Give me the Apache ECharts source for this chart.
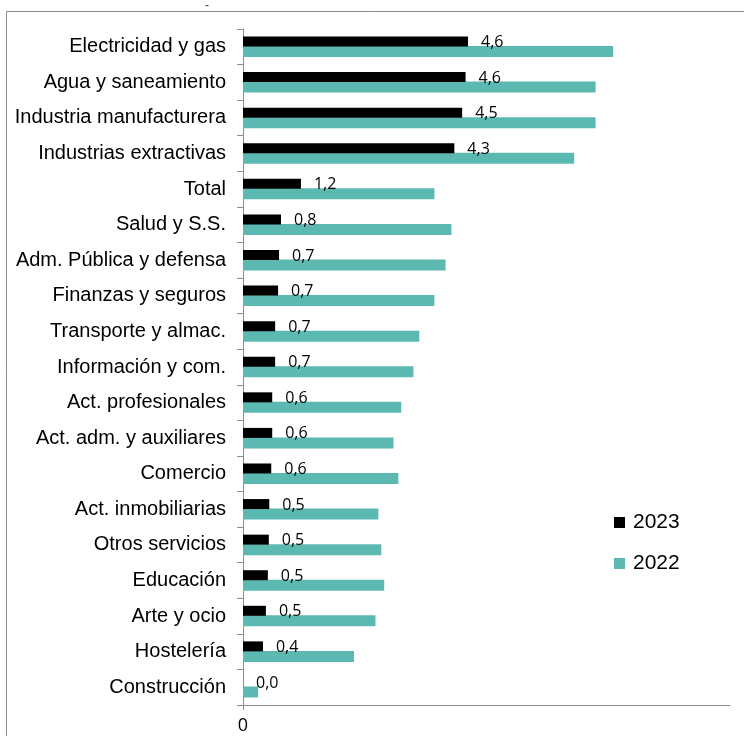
<!DOCTYPE html>
<html>
<head>
<meta charset="utf-8">
<script src="https://cdn.jsdelivr.net/npm/echarts@6/dist/echarts.min.js"></script>
<style>
  html, body { margin: 0; padding: 0; background: #fff; }
  #chart { width: 744px; height: 736px; }
</style>
</head>
<body>
<div id="chart"></div>
<script>
// Sector categories, top to bottom
const categories = [
  'Electricidad y gas', 'Agua y saneamiento', 'Industria manufacturera',
  'Industrias extractivas', 'Total', 'Salud y S.S.', 'Adm. Pública y defensa',
  'Finanzas y seguros', 'Transporte y almac.', 'Información y com.',
  'Act. profesionales', 'Act. adm. y auxiliares', 'Comercio',
  'Act. inmobiliarias', 'Otros servicios', 'Educación', 'Arte y ocio',
  'Hostelería', 'Construcción'
];

// 2023 values (labelled)
const values2023 = [4.62, 4.57, 4.50, 4.34, 1.19, 0.78, 0.74, 0.72, 0.66, 0.66,
                    0.60, 0.60, 0.58, 0.54, 0.53, 0.51, 0.47, 0.41, 0.0];

// 2022 values
const values2022 = [7.60, 7.24, 7.24, 6.80, 3.93, 4.28, 4.16, 3.93, 3.62, 3.50,
                    3.25, 3.09, 3.19, 2.78, 2.84, 2.90, 2.72, 2.28, 0.31];

const seriesNames = ['2023', '2022'];
const xTicks = [0];

const fmt = v => v.toFixed(1).replace('.', ',');

const chart = echarts.init(document.getElementById('chart'));
chart.setOption({
  animation: false,
  backgroundColor: '#fff',
  graphic: [
    {
      type: 'rect',
      shape: { x: 6.5, y: 11.5, width: 800, height: 800 },
      style: { fill: 'none', stroke: '#8c8c8c', lineWidth: 1 },
      silent: true
    },
    {
      type: 'text',
      left: 205, top: 0,
      style: { text: '-', font: '12px "Liberation Sans"', fill: '#333' },
      silent: true
    }
  ],
  legend: {
    orient: 'vertical',
    left: 609,
    top: 507,
    itemWidth: 11,
    itemHeight: 11,
    itemGap: 20,
    icon: 'rect',
    textStyle: { fontFamily: 'Liberation Sans', fontSize: 21, color: '#000', padding: [0, 0, 0, 3] },
    data: seriesNames
  },
  grid: { left: 243, right: 14, top: 29, bottom: 31, containLabel: false },
  xAxis: {
    type: 'value',
    min: 0,
    max: 10,
    interval: 10,
    splitLine: { show: false },
    axisLine: { show: true, lineStyle: { color: '#8c8c8c', width: 1 } },
    axisTick: { show: true, length: 5, lineStyle: { color: '#8c8c8c' }, customValues: xTicks },
    axisLabel: {
      customValues: xTicks,
      formatter: v => String(v),
      fontFamily: 'Open Sans', fontSize: 18, color: '#000', margin: 12
    }
  },
  yAxis: {
    type: 'category',
    inverse: true,
    data: categories,
    axisLine: { show: true, lineStyle: { color: '#8c8c8c', width: 1 } },
    axisTick: { show: true, length: 6, lineStyle: { color: '#8c8c8c' } },
    axisLabel: { fontFamily: 'Liberation Sans', fontSize: 20, color: '#000', margin: 17 }
  },
  series: [
    {
      name: seriesNames[0],
      type: 'bar',
      data: values2023,
      barWidth: 10,
      barGap: '-5%',
      barCategoryGap: '41%',
      itemStyle: { color: '#000' },
      label: {
        show: true,
        position: 'right',
        distance: 13,
        offset: [0, 1],
        formatter: p => fmt(p.value),
        fontFamily: 'Open Sans',
        fontSize: 16,
        color: '#000'
      },
      z: 3
    },
    {
      name: seriesNames[1],
      type: 'bar',
      data: values2022,
      barWidth: 11,
      itemStyle: { color: '#5cb9b2' },
      z: 2
    }
  ]
});
</script>
</body>
</html>
